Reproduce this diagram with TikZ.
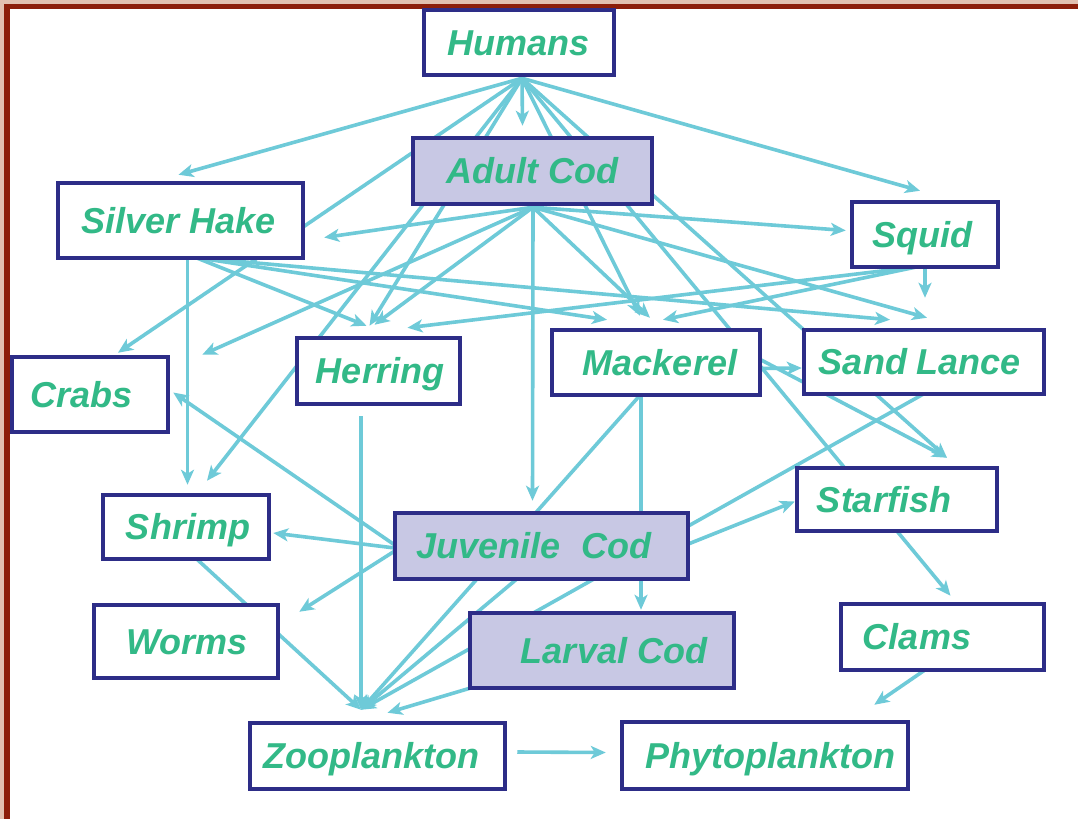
\documentclass[tikz,border=0pt]{standalone}
\usepackage{fontspec}
\setmainfont{Liberation Sans}
\usetikzlibrary{arrows.meta,calc,backgrounds}
\definecolor{txtgreen}{RGB}{50,185,135}
\definecolor{navy}{RGB}{45,45,135}
\definecolor{lav}{RGB}{200,200,228}
\definecolor{cyanl}{RGB}{110,202,216}
\definecolor{redb}{RGB}{140,30,10}
\definecolor{pinkb}{RGB}{226,192,176}
\begin{document}
\begin{tikzpicture}[x=1pt,y=-1pt,
  box/.style={draw=navy, line width=4.5pt, fill=white, inner sep=0pt},
  cod/.style={box, fill=lav},
  lbl/.style={text=txtgreen, font=\fontsize{36}{40}\selectfont\bfseries\itshape, inner sep=0pt, text height=25.8pt, text depth=0pt},
  arr/.style={draw=cyanl, line width=3.6pt, -{Stealth[length=15pt,width=13pt,inset=4pt]}}]
\useasboundingbox (0,0) rectangle (1078,819);

% nodes
\node[box, minimum width=190pt, minimum height=65pt, label={[lbl]center:Humans}] (hum) at (519,42.5) {};
\node[cod, minimum width=239pt, minimum height=66pt, label={[lbl]center:Adult Cod}] (adult) at (532.5,171) {};
\node[box, minimum width=245pt, minimum height=75pt, label={[lbl,xshift=-1.5pt]center:Silver Hake}] (hake) at (180.5,220.5) {};
\node[box, minimum width=146pt, minimum height=65pt, label={[lbl,xshift=-3pt]center:Squid}] (squid) at (925,234.5) {};
\node[box, minimum width=156pt, minimum height=75pt, label={[lbl,xshift=-8pt]center:Crabs}] (crabs) at (90,394.5) {};
\node[box, minimum width=163pt, minimum height=66pt, label={[lbl,xshift=1.5pt]center:Herring}] (herring) at (378.5,371) {};
\node[box, minimum width=208pt, minimum height=65pt, label={[lbl,xshift=4pt]center:Mackerel}] (mackerel) at (656,362.5) {};
\node[box, minimum width=240pt, minimum height=64pt, label={[lbl,xshift=-4pt]center:Sand Lance}] (sandlance) at (924,362) {};
\node[box, minimum width=200pt, minimum height=63pt, label={[lbl,xshift=-13pt]center:Starfish}] (starfish) at (897,499.5) {};
\node[box, minimum width=166pt, minimum height=64pt, label={[lbl,xshift=2pt]center:Shrimp}] (shrimp) at (186,527) {};
\node[cod, minimum width=293pt, minimum height=66pt, label={[lbl,xshift=-7.5pt]center:{Juvenile\hspace{0.56em}Cod}}] (juvenile) at (541.5,546) {};
\node[box, minimum width=184pt, minimum height=73pt, label={[lbl,xshift=1pt]center:Worms}] (worms) at (186,641.5) {};
\node[cod, minimum width=264pt, minimum height=75pt, label={[lbl,xshift=12pt]center:Larval Cod}] (larval) at (602,650.5) {};
\node[box, minimum width=203pt, minimum height=66pt, label={[lbl,xshift=-25.5pt]center:Clams}] (clams) at (942.5,637) {};
\node[box, minimum width=255pt, minimum height=66pt, label={[lbl,xshift=-6.5pt]center:Zooplankton}] (zoo) at (377.5,756) {};
\node[box, minimum width=286pt, minimum height=67pt, label={[lbl,xshift=5pt]center:Phytoplankton}] (phyto) at (765,755.5) {};

\coordinate (hf) at ($(hum.south)+(3,1)$);
\coordinate (acs) at ($(adult.south)+(0.5,1)$);
\coordinate (zc) at ($(zoo.north)+(-16.5,-11)$);

\begin{pgfonlayer}{background}
\fill[pinkb] (0,0) rectangle (1078,819);
\fill[redb] (4,4) rectangle (1078,819);
\fill[white] (10,9) rectangle (1078,819);

% Humans
\draw[arr] (hf) -- ($(hake.north)+(-2,-6)$);
\draw[arr] (hf) -- ($(crabs.north)+(28,-2)$);
\draw[arr] (hf) -- ($(adult.north)+(-10,-10)$);
\draw[arr] (hf) -- ($(squid.north)+(-5,-9)$);
\draw[arr] (hf) -- ($(herring.north)+(-9,-10)$);
\draw[arr] (hf) -- ($(shrimp.north)+(21,-12)$);
\draw[arr] (hf) -- ($(mackerel.north)+(-16,-12)$);
\draw[arr] (hf) -- ($(clams.north)+(8,-6)$);
\draw[arr] (hf) -- ($(starfish.north)+(50,-8)$);

% Adult Cod
\draw[arr] (acs) -- ($(hake.east)+(19,17)$);
\draw[arr] (acs) -- ($(crabs.north east)+(32,0)$);
\draw[arr] (acs) -- ($(herring.north)+(-4,-11)$);
\draw[arr] (acs) -- ($(juvenile.north)+(-9,-10)$);
\draw[arr] (acs) -- ($(mackerel.north)+(-6,-10)$);
\draw[arr] (acs) -- ($(squid.west)+(-4,-4)$);
\draw[arr] (acs) -- ($(sandlance.north)+(3,-10)$);

% Silver Hake
\draw[arr] ($(hake.south)+(7,-2)$) -- ($(shrimp.north)+(1.5,-8)$);
\draw[arr] ($(hake.south)+(17,-2)$) -- ($(herring.north)+(-12,-10)$);
\draw[arr] ($(hake.south)+(20,-2)$) -- ($(mackerel.north)+(-49,-8)$);
\draw[arr] ($(hake.south)+(23,-2)$) -- ($(sandlance.north)+(-34,-8)$);

% Squid
\draw[arr] (squid.south) -- ($(sandlance.north)+(1,-30)$);
\draw[arr] ($(squid.south)+(-10,-2)$) -- ($(mackerel.north)+(7,-8)$);
\draw[arr] ($(squid.south)+(-12,-2)$) -- ($(herring.north)+(29,-8)$);

% Mackerel
\draw[arr] ($(mackerel.east)+(-2,6)$) -- ($(sandlance.west)+(0,6)$);
\draw[arr] ($(mackerel.east)+(-2,-3)$) -- ($(starfish.north)+(50,-8)$);
\draw[arr] ($(mackerel.south)+(-15,-2)$) -- ($(larval.north)+(39,-1)$);
\draw[arr] ($(mackerel.south)+(-16,-2)$) -- (zc);

% Sand Lance
\draw[arr] ($(sandlance.south)+(-1,-2)$) -- (zc);

% Juvenile Cod
\draw[arr] ($(juvenile.west)+(2,2)$) -- ($(shrimp.east)+(2,6)$);
\draw[arr] ($(juvenile.west)+(2,5)$) -- ($(worms.north east)+(19,9)$);
\draw[arr] ($(juvenile.west)+(2,-1)$) -- ($(crabs.east)+(3,-2)$);
\draw[arr] ($(juvenile.south)+(-25,-2)$) -- (zc);
\draw[arr] ($(juvenile.east)+(-2,-2)$) -- ($(starfish.west)+(0,2)$);

% others
\draw[arr] ($(herring.south)+(-17.5,10)$) -- (zc);
\draw[arr] ($(shrimp.south)+(11,-2)$) -- (zc);
\draw[arr] ($(larval.south west)+(2,-2)$) -- ($(zoo.north)+(10,-8)$);
\draw[arr] ($(clams.south)+(-18,-2)$) -- ($(phyto.north east)+(-36,-15)$);
\draw[arr] ($(zoo.east)+(10,-4)$) -- ($(phyto.west)+(-14,-3)$);
\end{pgfonlayer}
\end{tikzpicture}
\end{document}
